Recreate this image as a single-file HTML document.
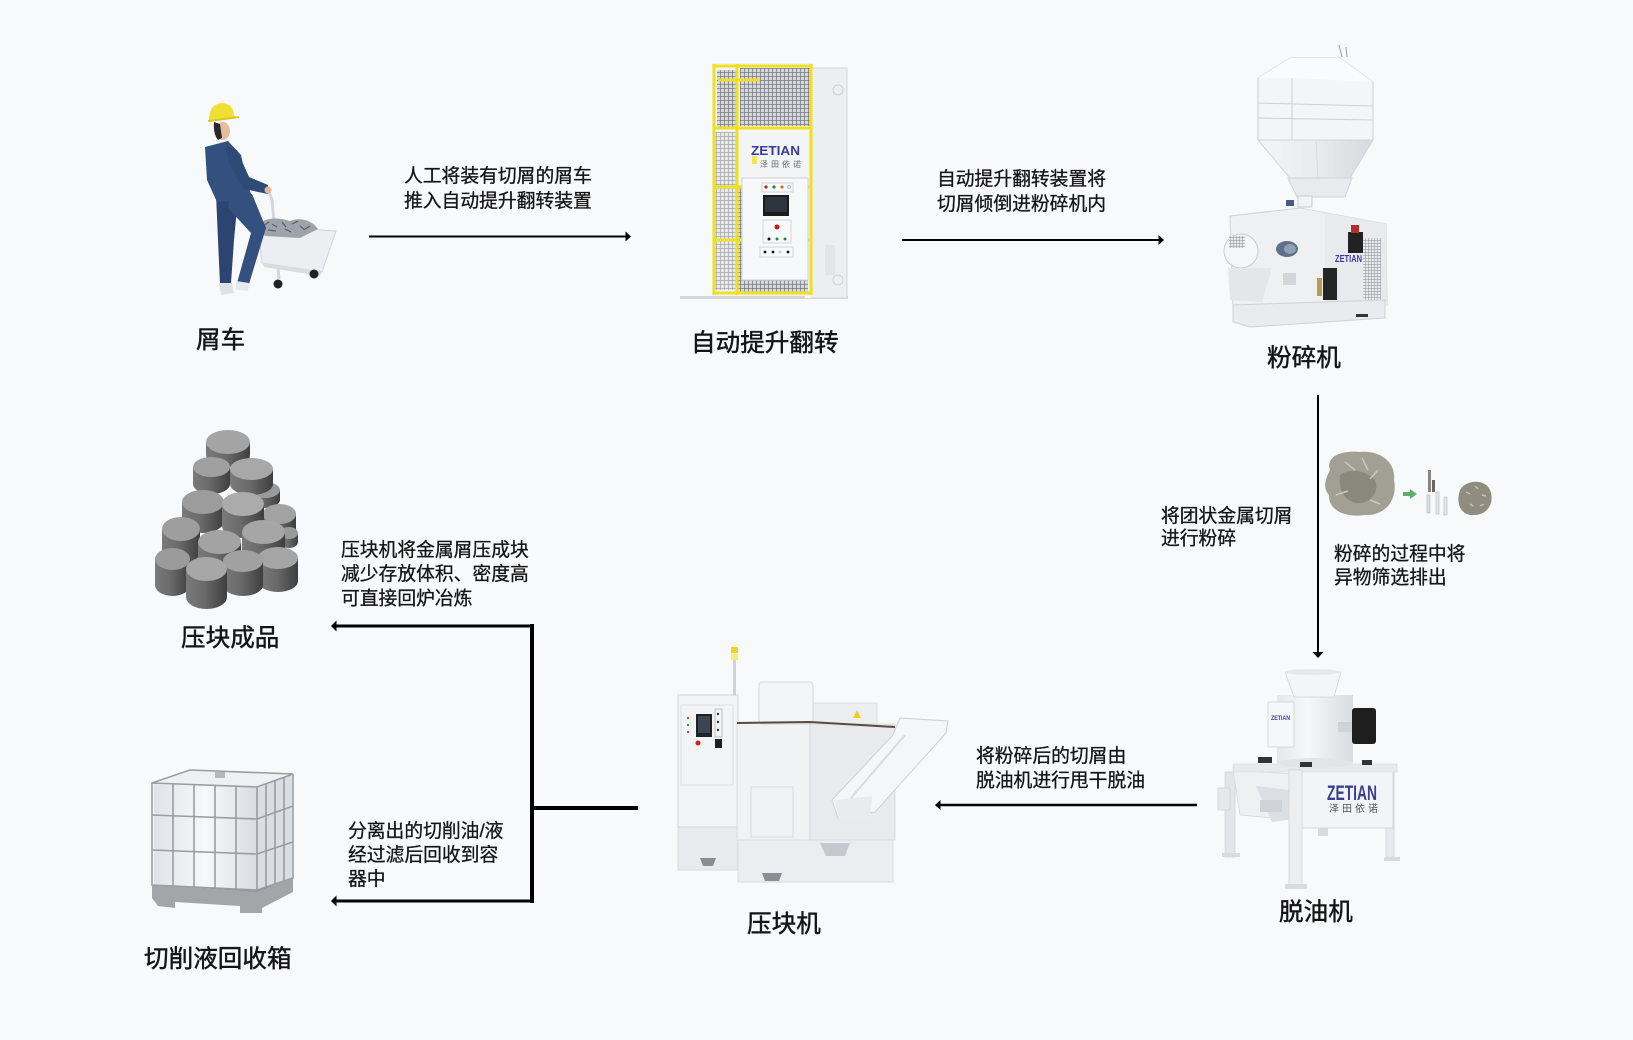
<!DOCTYPE html>
<html><head><meta charset="utf-8">
<style>
html,body{margin:0;padding:0;background:#f8f9fb;}
svg{display:block;}
text{font-family:"Liberation Sans","Noto Sans CJK SC",sans-serif;fill:#151515;}
.lb{font-size:24.6px;stroke:#151515;stroke-width:0.45px;}
.ds{font-size:18.8px;stroke:#151515;stroke-width:0.3px;}
</style></head><body>
<svg width="1633" height="1040" viewBox="0 0 1633 1040" xmlns="http://www.w3.org/2000/svg">
<defs>
<pattern id="mesh" width="4" height="4" patternUnits="userSpaceOnUse"><rect width="4" height="4" fill="#d4d7db"/><path d="M0 0.3H4M0.3 0V4" stroke="#6a6c70" stroke-width="0.7"/></pattern>
<pattern id="meshL" width="4" height="4" patternUnits="userSpaceOnUse"><rect width="4" height="4" fill="#e6e8eb"/><path d="M0 0.3H4M0.3 0V4" stroke="#9a9ca0" stroke-width="0.6"/></pattern>
<pattern id="grill" width="3" height="3" patternUnits="userSpaceOnUse"><rect width="3" height="3" fill="#e8eaed"/><path d="M0 0.3H3M0.3 0V3" stroke="#9a9da2" stroke-width="0.6"/></pattern>
<linearGradient id="cyl" x1="0" x2="1" y1="0" y2="0"><stop offset="0" stop-color="#7a7a7a"/><stop offset="0.45" stop-color="#6a6a6a"/><stop offset="1" stop-color="#3e3e3e"/></linearGradient>
<linearGradient id="cone" x1="0" x2="1"><stop offset="0" stop-color="#f4f5f7"/><stop offset="0.5" stop-color="#e9ebee"/><stop offset="1" stop-color="#d6d9dd"/></linearGradient>
<linearGradient id="drum" x1="0" x2="1"><stop offset="0" stop-color="#e4e6ea"/><stop offset="0.4" stop-color="#f6f7f9"/><stop offset="1" stop-color="#d9dce0"/></linearGradient>
<linearGradient id="tank" x1="0" x2="1"><stop offset="0" stop-color="#dfe3e8"/><stop offset="0.5" stop-color="#f7f8fa"/><stop offset="1" stop-color="#d8dce2"/></linearGradient>
</defs>
<rect width="1633" height="1040" fill="#f8f9fb"/>

<!-- ========== Worker + cart ========== -->
<g>
  <path d="M258,191 L268,189 L272,200 L279,279" fill="none" stroke="#d3d6db" stroke-width="3"/>
  <polygon points="258,226 336,231 322,272 262,263" fill="#eceef1" stroke="#cfd3d8" stroke-width="1"/>
  <polygon points="262,263 322,272 320,276 264,267" fill="#d9dce0"/>
  <path d="M258,226 C265,216 280,218 290,221 C300,217 312,220 318,229 L300,238 L265,236 Z" fill="#9ea3a9"/>
  <path d="M263,226 l6,-4 M272,224 l5,3 M282,222 l4,5 M292,224 l6,-3 M300,226 l5,4 M268,230 l8,1 M285,229 l6,3 M305,229 l5,-3" stroke="#5c6066" stroke-width="1.2"/>
  <circle cx="278" cy="284" r="4.5" fill="#222"/>
  <circle cx="314" cy="274" r="4.5" fill="#222"/>
  <polygon points="216,194 238,198 234,240 231,283 220,284 218,240" fill="#2c4570"/>
  <polygon points="230,190 252,194 266,228 249,284 237,283 251,233 228,208" fill="#34507e"/>
  <polygon points="205,147 228,141 241,155 247,183 253,199 217,202 207,180" fill="#33507f"/>
  <polygon points="225,146 237,150 249,177 268,185 268,194 244,189 230,166" fill="#2e4a76"/>
  <circle cx="268" cy="190" r="3.5" fill="#e2b896"/>
  <ellipse cx="223" cy="131" rx="7" ry="9" fill="#e6be9c"/>
  <path d="M214,122 Q213,134 218,140 L222,138 L220,124 Z" fill="#2a2a2a"/>
  <path d="M209,120 Q209,104 222,103 Q234,104 234,116 L238,118 L210,122 Z" fill="#f0df35"/>
  <path d="M208,121 L239,117" stroke="#d8c62a" stroke-width="2"/>
  <path d="M219,283 L232,283 L234,293 L221,295 Z" fill="#dfe1e4"/>
  <path d="M236,281 L249,283 L248,291 L236,290 Z" fill="#e7e9ec"/>
</g>

<!-- ========== Lift machine ========== -->
<g>
  <rect x="680" y="296" width="168" height="3" fill="#d4d6da"/>
  <rect x="810" y="68" width="37" height="230" fill="#eceef1" stroke="#d3d6da" stroke-width="1"/>
  <rect x="805" y="66" width="6" height="232" fill="#f5f6f8"/>
  <circle cx="838" cy="90" r="5" fill="none" stroke="#d0d3d7"/>
  <circle cx="838" cy="280" r="5" fill="none" stroke="#d0d3d7"/>
  <rect x="825" y="245" width="10" height="30" fill="#e3e5e8"/>
  <rect x="712" y="63" width="100" height="233" fill="#f2f3f5"/>
  <rect x="740" y="68" width="70" height="58" fill="url(#mesh)"/>
  <rect x="717" y="70" width="19" height="57" fill="url(#mesh)"/>
  <rect x="715" y="132" width="21" height="158" fill="url(#meshL)"/>
  <rect x="738" y="240" width="70" height="52" fill="url(#mesh)"/>
  <rect x="738" y="188" width="8" height="52" fill="url(#mesh)"/>
  <rect x="800" y="188" width="8" height="52" fill="url(#mesh)"/>
  <rect x="738" y="130" width="72" height="56" fill="#f3f4f6"/>
  <g stroke="#f0e01e" stroke-width="3" fill="none">
    <path d="M713,66 L812,66"/>
    <path d="M713,128 L812,128"/>
    <path d="M713,187 L742,187 M806,187 L812,187"/>
    <path d="M713,240 L742,240 M806,240 L812,240"/>
    <path d="M713,293 L812,293"/>
    <path d="M714,64 L714,295"/>
    <path d="M737,64 L737,295"/>
    <path d="M811,64 L811,295"/>
    <path d="M718,80 L760,80"/>
  </g>
  <text x="751" y="155" font-size="13" font-weight="bold" textLength="49" lengthAdjust="spacingAndGlyphs" style="fill:#3b3c98">ZETIAN</text>
  <text x="760" y="167" font-size="8" letter-spacing="3" style="fill:#666">泽田依诺</text>
  <rect x="752" y="156" width="5" height="8" fill="#f5e45a"/>
  <rect x="742" y="178" width="66" height="102" fill="#f7f8f9" stroke="#cfd2d6"/>
  <rect x="762" y="183" width="31" height="9" fill="none" stroke="#c9ccd0" stroke-width="0.8"/>
  <circle cx="766" cy="187" r="1.6" fill="#c82020"/>
  <circle cx="774" cy="187" r="1.6" fill="#1d8a3a"/>
  <circle cx="782" cy="187" r="1.6" fill="#e06a18"/>
  <circle cx="789" cy="187" r="1.6" fill="#ddd" stroke="#999" stroke-width="0.5"/>
  <rect x="763" y="195" width="26" height="21" fill="#1c1c1c"/>
  <rect x="765" y="197" width="22" height="15" fill="#2e3540"/>
  <rect x="763" y="220" width="28" height="23" fill="none" stroke="#c9ccd0" stroke-width="0.8"/>
  <circle cx="777" cy="227" r="2.5" fill="#d01818"/>
  <circle cx="769" cy="239" r="1.5" fill="#111"/>
  <circle cx="777" cy="239" r="1.5" fill="#1d8a3a"/>
  <circle cx="785" cy="239" r="1.5" fill="#1d8a3a"/>
  <rect x="760" y="247" width="33" height="10" fill="none" stroke="#c9ccd0" stroke-width="0.8"/>
  <circle cx="765" cy="252" r="1.4" fill="#111"/>
  <circle cx="773" cy="252" r="1.4" fill="#111"/>
  <circle cx="780" cy="252" r="1.4" fill="#ccc"/>
  <circle cx="788" cy="252" r="1.4" fill="#111"/>
</g>

<!-- ========== Crusher ========== -->
<g>
  <path d="M1339,45 L1342,57 M1346,47 L1347,57" stroke="#999" stroke-width="1"/>
  <polygon points="1258,78 1290,58 1340,58 1373,82 1373,140 1258,140" fill="#f4f5f7" stroke="#cdd0d4"/>
  <polygon points="1258,78 1290,58 1340,58 1373,82 1335,80 1292,78" fill="#fafbfc"/>
  <path d="M1292,78 L1292,140 M1258,103 L1373,106 M1258,118 L1373,120" stroke="#cdd0d4" stroke-width="1" fill="none"/>
  <polygon points="1258,140 1373,140 1350,178 1290,178" fill="url(#cone)" stroke="#d2d5d9"/>
  <path d="M1316,140 L1318,178" stroke="#d8dbdf"/>
  <polygon points="1288,178 1352,178 1345,197 1297,197" fill="#e8eaed" stroke="#d0d3d7"/>
  <rect x="1286" y="200" width="8" height="6" fill="#4a5a8a"/>
  <rect x="1298" y="196" width="14" height="11" fill="#f2f3f5" stroke="#c8cbcf"/>
  <polygon points="1230,216 1300,208 1386,224 1387,305 1233,310" fill="#eef0f2" stroke="#d0d3d7"/>
  <polygon points="1300,208 1386,224 1387,305 1325,306 1325,214" fill="#e8eaed"/>
  <circle cx="1241" cy="251" r="17" fill="#f5f6f8" stroke="#c9ccd0"/>
  <rect x="1229" y="236" width="16" height="12" fill="url(#grill)"/>
  <ellipse cx="1287" cy="249" rx="11" ry="8" fill="#607088"/>
  <ellipse cx="1290" cy="249" rx="6" ry="5" fill="#8fa0b5"/>
  <polygon points="1228,268 1272,268 1262,302 1230,300" fill="#e4e6e9"/>
  <rect x="1283" y="273" width="13" height="12" fill="#d3d6da"/>
  <rect x="1363" y="238" width="18" height="62" fill="url(#grill)"/>
  <rect x="1348" y="232" width="15" height="21" fill="#222"/>
  <rect x="1351" y="225" width="8" height="8" fill="#b03030"/>
  <rect x="1323" y="268" width="14" height="32" fill="#262626"/>
  <rect x="1317" y="278" width="5" height="18" fill="#b89a50"/>
  <text x="1335" y="262" font-size="10" font-weight="bold" textLength="27" lengthAdjust="spacingAndGlyphs" style="fill:#3b3c98">ZETIAN</text>
  <polygon points="1233,305 1385,300 1385,318 1250,327 1233,322" fill="#e9ebee" stroke="#d0d3d7"/>
  <rect x="1356" y="314" width="12" height="3" fill="#333"/>
</g>

<!-- side images near crusher -->
<g>
  <path d="M1330,470 C1325,455 1345,450 1360,452 C1380,450 1396,462 1394,480 C1398,500 1385,516 1365,515 C1345,518 1328,510 1329,495 C1322,487 1326,478 1330,470 Z" fill="#a29f94"/>
  <path d="M1340,475 C1350,468 1365,470 1375,480 C1380,492 1370,505 1355,503 C1345,500 1338,490 1340,475 Z" fill="#8a877c"/>
  <path d="M1345,462 l10,8 M1362,458 l6,12 M1378,470 l-8,9 M1336,495 l12,-4 M1370,500 l10,4" stroke="#c9c6bb" stroke-width="1.5"/>
  <path d="M1403,494 L1411,494" stroke="#5fae6e" stroke-width="4"/>
  <polygon points="1410,489 1417,494 1410,499" fill="#5fae6e"/>
  <rect x="1428" y="470" width="3" height="22" fill="#8a8580"/>
  <rect x="1432" y="480" width="3" height="12" fill="#6a6560"/>
  <rect x="1427" y="495" width="3" height="18" fill="#dcdcdc" stroke="#aaa" stroke-width="0.5"/>
  <rect x="1436" y="492" width="3" height="22" fill="#e6e6e6" stroke="#aaa" stroke-width="0.5"/>
  <rect x="1444" y="497" width="3" height="18" fill="#e6e6e6" stroke="#aaa" stroke-width="0.5"/>
  <path d="M1460,490 C1465,480 1485,478 1490,490 C1495,502 1488,515 1474,515 C1462,516 1455,505 1460,490 Z" fill="#908d80"/>
  <path d="M1466,492 l4,2 M1475,486 l3,3 M1482,495 l4,1 M1470,504 l3,2 M1480,506 l4,-2" stroke="#c5c2b5" stroke-width="1.5"/>
</g>

<!-- ========== Deoiler ========== -->
<g>
  <rect x="1225" y="772" width="10" height="85" fill="#e3e5e8" stroke="#d2d5d9" stroke-width="0.8"/>
  <rect x="1222" y="853" width="18" height="4" fill="#d8dade"/>
  <rect x="1386" y="772" width="8" height="88" fill="#e6e8eb" stroke="#d2d5d9" stroke-width="0.8"/>
  <rect x="1384" y="857" width="16" height="4" fill="#d8dade"/>
  <polygon points="1233,770 1295,774 1295,820 1240,815" fill="#eef0f2" stroke="#d6d9dc" stroke-width="0.8"/>
  <polygon points="1256,786 1290,790 1288,820 1272,822" fill="#dcdfe3"/>
  <rect x="1260" y="800" width="22" height="12" fill="#cfd2d6"/>
  <rect x="1218" y="788" width="12" height="22" fill="#e6e8eb" stroke="#cfd2d6" stroke-width="0.8"/>
  <rect x="1295" y="771" width="98" height="57" fill="#f3f4f6" stroke="#d6d9dc"/>
  <polygon points="1233,764 1397,764 1397,772 1233,772" fill="#e7e9ec" stroke="#d3d6da" stroke-width="0.6"/>
  <rect x="1289" y="770" width="13" height="118" fill="#eceef0" stroke="#d2d5d9" stroke-width="0.8"/>
  <rect x="1285" y="884" width="22" height="5" fill="#d9dbdf"/>
  <rect x="1318" y="828" width="10" height="8" fill="#d8dade"/>
  <rect x="1277" y="695" width="76" height="68" fill="url(#drum)"/>
  <ellipse cx="1315" cy="763" rx="38" ry="5" fill="#e2e4e8"/>
  <polygon points="1285,672 1341,672 1334,697 1294,697" fill="#f4f5f7" stroke="#d0d3d7" stroke-width="0.8"/>
  <ellipse cx="1313" cy="672" rx="28" ry="3" fill="#e6e8eb"/>
  <rect x="1268" y="702" width="26" height="45" fill="#f6f7f9" stroke="#cfd2d6" stroke-width="0.8"/>
  <text x="1271" y="720" font-size="6" font-weight="bold" textLength="19" lengthAdjust="spacingAndGlyphs" style="fill:#3b3c98">ZETIAN</text>
  <rect x="1352" y="708" width="24" height="36" rx="3" fill="#1e1e1e"/>
  <rect x="1338" y="722" width="14" height="10" fill="#cfd2d6"/>
  <rect x="1258" y="757" width="14" height="6" fill="#333"/>
  <rect x="1300" y="762" width="12" height="5" fill="#333"/>
  <rect x="1362" y="760" width="10" height="5" fill="#333"/>
  <text x="1327" y="800" font-size="21" font-weight="bold" textLength="50" lengthAdjust="spacingAndGlyphs" style="fill:#3b3f92">ZETIAN</text>
  <text x="1329" y="812" font-size="10" letter-spacing="3" style="fill:#555">泽田依诺</text>
</g>

<!-- ========== Press machine ========== -->
<g>
  <rect x="733" y="660" width="3" height="36" fill="#cfd2d6"/>
  <rect x="731" y="647" width="7" height="6" fill="#f2d21c"/>
  <rect x="731" y="654" width="7" height="6" fill="#f6ea7a"/>
  <rect x="678" y="825" width="60" height="45" fill="#e8eaed" stroke="#d2d5d9" stroke-width="0.8"/>
  <rect x="738" y="838" width="155" height="44" fill="#ebedf0" stroke="#d2d5d9" stroke-width="0.8"/>
  <polygon points="700,858 716,858 713,866 703,866" fill="#8a8d92"/>
  <polygon points="762,873 782,873 779,881 765,881" fill="#8a8d92"/>
  <polygon points="820,843 850,843 845,856 826,856" fill="#c5c8cc"/>
  <rect x="678" y="695" width="60" height="132" fill="#f3f4f6" stroke="#d0d3d7"/>
  <rect x="681" y="705" width="52" height="80" fill="none" stroke="#d6d9dc" stroke-width="0.8"/>
  <rect x="696" y="714" width="16" height="23" fill="#222"/>
  <rect x="698" y="716" width="12" height="17" fill="#3a4654"/>
  <rect x="715" y="709" width="7" height="28" fill="none" stroke="#aaa" stroke-width="0.7"/>
  <circle cx="718" cy="714" r="1.2" fill="#333"/>
  <circle cx="718" cy="722" r="1.2" fill="#333"/>
  <circle cx="718" cy="730" r="1.2" fill="#333"/>
  <circle cx="688" cy="718" r="1.2" fill="#c44"/>
  <circle cx="688" cy="725" r="1.2" fill="#3a3"/>
  <circle cx="688" cy="732" r="1.2" fill="#c44"/>
  <circle cx="698" cy="743" r="2.5" fill="#d42020"/>
  <rect x="715" y="739" width="7" height="9" fill="#1e1e1e"/>
  <rect x="737" y="723" width="73" height="117" fill="#f1f2f4" stroke="#d3d6da" stroke-width="0.8"/>
  <rect x="810" y="724" width="85" height="116" fill="#e8eaed" stroke="#d3d6da" stroke-width="0.8"/>
  <rect x="751" y="787" width="42" height="50" fill="none" stroke="#d0d3d7" stroke-width="0.8"/>
  <rect x="759" y="682" width="54" height="42" rx="3" fill="#f4f5f7" stroke="#d4d7db"/>
  <rect x="813" y="703" width="64" height="21" fill="#eceef1" stroke="#d4d7db" stroke-width="0.8"/>
  <polygon points="857,710 861,718 853,718" fill="#f2cf1a"/>
  <path d="M737,723 L810,722 L895,727" stroke="#5a4a40" stroke-width="2" fill="none"/>
  <polygon points="900,718 948,721 946,733 875,812 838,818 832,800 893,735" fill="#f5f6f8" stroke="#cdd0d4"/>
  <path d="M905,735 L845,805" stroke="#d8dbdf" stroke-width="2"/>
  <polygon points="835,800 872,796 870,820 838,818" fill="#e9ebee"/>
</g>

<!-- ========== Briquettes ========== -->
<g>
  <path d="M206,442 L206,455 A22,12 0 0 0 250,455 L250,442 Z" fill="url(#cyl)"/><ellipse cx="228" cy="442" rx="22" ry="12" fill="#a4a4a4"/>
  <path d="M250,490 L250,500 A15,8 0 0 0 280,500 L280,490 Z" fill="url(#cyl)"/><ellipse cx="265" cy="490" rx="15" ry="8" fill="#9a9a9a"/>
  <path d="M193,467 L193,484 A18.5,10 0 0 0 230,484 L230,467 Z" fill="url(#cyl)"/><ellipse cx="211.5" cy="467" rx="18.5" ry="10" fill="#a0a0a0"/>
  <path d="M230,469 L230,484 A21.5,11 0 0 0 273,484 L273,469 Z" fill="url(#cyl)"/><ellipse cx="251.5" cy="469" rx="21.5" ry="11" fill="#a8a8a8"/>
  <path d="M182,502 L182,521 A21,12 0 0 0 224,521 L224,502 Z" fill="url(#cyl)"/><ellipse cx="203" cy="502" rx="21" ry="12" fill="#9c9c9c"/>
  <path d="M263,514 L263,535 A16.5,10 0 0 0 296,535 L296,514 Z" fill="url(#cyl)"/><ellipse cx="279.5" cy="514" rx="16.5" ry="10" fill="#a2a2a2"/>
  <path d="M222,504 L222,526 A21,12 0 0 0 264,526 L264,504 Z" fill="url(#cyl)"/><ellipse cx="243" cy="504" rx="21" ry="12" fill="#ababab"/>
  <path d="M280,533 L280,542 A9,6 0 0 0 298,542 L298,533 Z" fill="url(#cyl)"/><ellipse cx="289" cy="533" rx="9" ry="6" fill="#9a9a9a"/>
  <path d="M162,529 L162,552 A19,12 0 0 0 200,552 L200,529 Z" fill="url(#cyl)"/><ellipse cx="181" cy="529" rx="19" ry="12" fill="#9e9e9e"/>
  <path d="M242,532 L242,555 A21.5,12 0 0 0 285,555 L285,532 Z" fill="url(#cyl)"/><ellipse cx="263.5" cy="532" rx="21.5" ry="12" fill="#a6a6a6"/>
  <path d="M198,542 L198,561 A21.5,12 0 0 0 241,561 L241,542 Z" fill="url(#cyl)"/><ellipse cx="219.5" cy="542" rx="21.5" ry="12" fill="#a3a3a3"/>
  <path d="M155,559 L155,585 A17.5,11 0 0 0 190,585 L190,559 Z" fill="url(#cyl)"/><ellipse cx="172.5" cy="559" rx="17.5" ry="11" fill="#9b9b9b"/>
  <path d="M258,558 L258,581 A20,11 0 0 0 298,581 L298,558 Z" fill="url(#cyl)"/><ellipse cx="278" cy="558" rx="20" ry="11" fill="#a5a5a5"/>
  <path d="M223,561 L223,585 A20,11 0 0 0 263,585 L263,561 Z" fill="url(#cyl)"/><ellipse cx="243" cy="561" rx="20" ry="11" fill="#a1a1a1"/>
  <path d="M186,569 L186,597 A20.5,12 0 0 0 227,597 L227,569 Z" fill="url(#cyl)"/><ellipse cx="206.5" cy="569" rx="20.5" ry="12" fill="#a7a7a7"/>
</g>

<!-- ========== IBC tank ========== -->
<g>
  <polygon points="152,885 257,892 293,878 293,892 262,908 262,913 240,913 240,906 175,902 175,908 158,906 152,898" fill="#a3a5a8"/>
  <polygon points="152,885 257,892 293,878 257,888" fill="#8e9094"/>
  <polygon points="154,784 257,788 257,890 154,885" fill="url(#tank)"/>
  <polygon points="257,788 292,775 292,878 257,890" fill="#dadee3"/>
  <polygon points="154,784 190,771 292,775 257,788" fill="#eef0f3"/>
  <rect x="215" y="772" width="10" height="6" fill="#b5b8bc"/>
  <g stroke="#9a9da1" stroke-width="1.6" fill="none">
    <polygon points="152,783 257,787 257,890 152,885"/>
    <path d="M152,783 L190,770 L293,774 L257,787 M293,774 L293,878 L257,890"/>
    <path d="M152,815 L257,819 L293,806 M152,850 L257,854 L293,842"/>
    <path d="M173,784 L173,886 M194,785 L194,887 M215,786 L215,888 M236,786 L236,889"/>
    <path d="M266,784 L266,887 M275,781 L275,884 M284,778 L284,881"/>
  </g>
</g>

<!-- ========== Connectors ========== -->
<g fill="#000" stroke="none">
  <line x1="369" y1="236.5" x2="627" y2="236.5" stroke="#000" stroke-width="2"/>
  <polygon points="631,236.5 625.5,231.5 625.5,241.5"/>
  <line x1="902" y1="240" x2="1160" y2="240" stroke="#000" stroke-width="2"/>
  <polygon points="1164,240 1158.5,235 1158.5,245"/>
  <line x1="1318" y1="395" x2="1318" y2="653" stroke="#000" stroke-width="2"/>
  <polygon points="1318,658 1312.5,652 1323.5,652"/>
  <line x1="1197" y1="805" x2="939" y2="805" stroke="#000" stroke-width="2.5"/>
  <polygon points="935,805 940.5,800 940.5,810"/>
  <line x1="532" y1="624" x2="532" y2="903" stroke="#000" stroke-width="4"/>
  <line x1="532" y1="808" x2="638" y2="808" stroke="#000" stroke-width="4"/>
  <line x1="534" y1="626" x2="335" y2="626" stroke="#000" stroke-width="3"/>
  <polygon points="331,626 336.5,620.5 336.5,631.5"/>
  <line x1="534" y1="901" x2="335" y2="901" stroke="#000" stroke-width="3"/>
  <polygon points="331,901 336.5,895.5 336.5,906.5"/>
</g>

<!-- ========== Labels ========== -->
<text class="lb" x="196" y="348">屑车</text>
<text class="lb" x="691" y="351">自动提升翻转</text>
<text class="lb" x="1267" y="366">粉碎机</text>
<text class="lb" x="181" y="646">压块成品</text>
<text class="lb" x="144" y="967">切削液回收箱</text>
<text class="lb" x="747" y="932">压块机</text>
<text class="lb" x="1279" y="920">脱油机</text>

<!-- ========== Descriptions ========== -->
<text class="ds" x="404" y="182">人工将装有切屑的屑车</text>
<text class="ds" x="404" y="207">推入自动提升翻转装置</text>
<text class="ds" x="937" y="185">自动提升翻转装置将</text>
<text class="ds" x="937" y="210">切屑倾倒进粉碎机内</text>
<text class="ds" x="1161" y="522">将团状金属切屑</text>
<text class="ds" x="1161" y="544.5">进行粉碎</text>
<text class="ds" x="1334" y="560">粉碎的过程中将</text>
<text class="ds" x="1334" y="583.5">异物筛选排出</text>
<text class="ds" x="976" y="762">将粉碎后的切屑由</text>
<text class="ds" x="976" y="786.5">脱油机进行甩干脱油</text>
<text class="ds" x="341" y="556">压块机将金属屑压成块</text>
<text class="ds" x="341" y="580">减少存放体积、密度高</text>
<text class="ds" x="341" y="604.5">可直接回炉冶炼</text>
<text class="ds" x="348" y="837">分离出的切削油/液</text>
<text class="ds" x="348" y="861">经过滤后回收到容</text>
<text class="ds" x="348" y="885">器中</text>
</svg>
</body></html>
